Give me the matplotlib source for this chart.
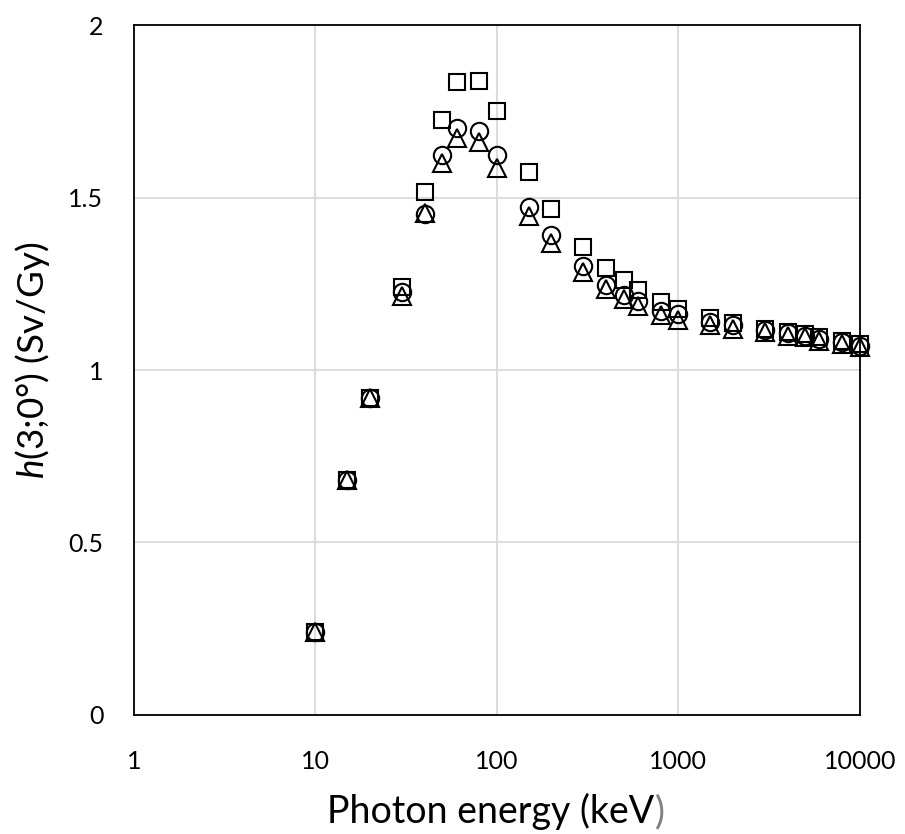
import numpy as np
import matplotlib
matplotlib.use("Agg")
import matplotlib.pyplot as plt

plt.rcParams['font.family'] = ['Lato', 'DejaVu Sans']
plt.rcParams['mathtext.fontset'] = 'custom'
plt.rcParams['mathtext.rm'] = 'Lato'
plt.rcParams['mathtext.it'] = 'Lato:italic'

# photon energies (keV)
energy = [10, 15, 20, 30, 40, 50, 60, 80, 100, 150, 200, 300, 400, 500,
          600, 800, 1000, 1500, 2000, 3000, 4000, 5000, 6000, 8000, 10000]

# conversion coefficients h(3;0deg) in Sv/Gy, three data sets
h_square = [0.24, 0.68, 0.92, 1.24, 1.515, 1.725, 1.835, 1.838, 1.75, 1.573,
            1.468, 1.357, 1.295, 1.26, 1.233, 1.198, 1.178, 1.15, 1.135,
            1.12, 1.11, 1.103, 1.095, 1.085, 1.075]
h_circle = [0.24, 0.68, 0.92, 1.225, 1.453, 1.622, 1.702, 1.692, 1.623, 1.473,
            1.39, 1.302, 1.247, 1.218, 1.2, 1.172, 1.163, 1.14, 1.13,
            1.115, 1.108, 1.1, 1.09, 1.08, 1.07]
h_triangle = [0.24, 0.68, 0.92, 1.215, 1.455, 1.60, 1.672, 1.66, 1.585, 1.445,
              1.367, 1.283, 1.235, 1.205, 1.185, 1.16, 1.145, 1.13, 1.12,
              1.11, 1.1, 1.095, 1.085, 1.075, 1.068]

x_ticks = [1, 10, 100, 1000, 10000]
y_ticks = [0, 0.5, 1, 1.5, 2]

fig = plt.figure(figsize=(9.05, 8.34), dpi=100)
ax = fig.add_axes([0.148, 0.1427, 0.802, 0.8273])

style = dict(linestyle='none', fillstyle='none', color='black',
             markeredgewidth=1.5, clip_on=False)
ax.plot(energy, h_square, marker='s', markersize=12, **style)
ax.plot(energy, h_circle, marker='o', markersize=12.5, **style)
ax.plot(energy, h_triangle, marker='^', markersize=12.5, **style)

ax.set_xscale('log')
ax.set_xlim(1, 10000)
ax.set_ylim(0, 2)
ax.set_xticks(x_ticks)
ax.set_xticklabels([str(t) for t in x_ticks])
ax.minorticks_off()
ax.set_yticks(y_ticks)
ax.set_yticklabels(['0', '0.5', '1', '1.5', '2'])

ax.grid(True, color='#d9d9d9', linewidth=1.3)
ax.set_axisbelow(True)
for s in ax.spines.values():
    s.set_color('black')
    s.set_linewidth(1.3)

ax.tick_params(axis='both', length=0, labelsize=18)
ax.tick_params(axis='x', pad=25)
ax.tick_params(axis='y', pad=22)

# x label: closing bracket is grey in the original
xc = 0.548
yb = 0.0132
full = fig.text(xc, yb, 'Photon energy (keV)', fontsize=27, color='none',
                ha='center', va='baseline')
fig.canvas.draw()
x0 = full.get_window_extent().x0 / fig.bbox.width
full.remove()
main = fig.text(x0, yb, 'Photon energy (keV', fontsize=27, color='black',
                ha='left', va='baseline')
fig.canvas.draw()
x1 = main.get_window_extent().x1 / fig.bbox.width
fig.text(x1, yb, ')', fontsize=27, color='#808080', ha='left', va='baseline')

fig.text(0.036, 0.568, r'$h$(3;0°) (Sv/Gy)', fontsize=26.5, rotation=90,
         ha='center', va='center')

fig.savefig('out.png', dpi=100)
